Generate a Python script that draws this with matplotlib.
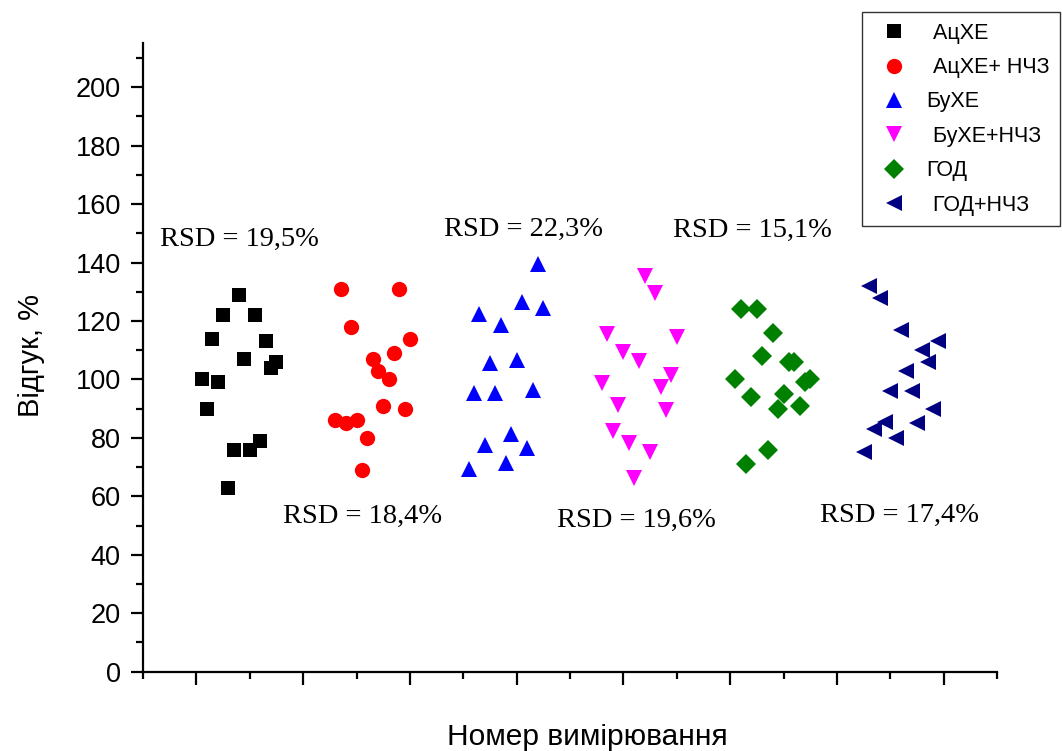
import matplotlib
matplotlib.use('Agg')
import matplotlib.pyplot as plt
import numpy as np

# номер вимірювання (1..15) і зсув для кожної серії
n_meas = np.arange(1, 16)
x_shift = [0, 25, 50, 75, 100, 124]

names = [' АцХЕ', ' АцХЕ+ НЧЗ', 'БуХЕ', ' БуХЕ+НЧЗ', 'ГОД', ' ГОД+НЧЗ']

achE = [100, 90, 114, 99, 122, 63, 76, 129, 107, 76, 122, 79, 113, 104, 106]
achE_nch = [86, 131, 85, 118, 86, 69, 80, 107, 103, 91, 100, 109, 131, 90, 114]
buchE = [69.5, 95.5, 122.5, 77.5, 105.5, 95.5, 118.5, 71.5, 81.5, 106.5, 126.5, 76.5, 96.5, 139.5, 124.5]
buchE_nch = [98.7, 115.6, 82.5, 91.3, 109.5, 78.4, 66.2, 106.4, 135.5, 75.3, 129.5, 97.5, 89.6, 101.5, 114.4]
god = [100, 124, 71, 94, 124, 108, 76, 116, 90, 95, 106, 106, 91, 99, 100]
god_nch = [75, 132, 83, 128, 85.6, 96, 80, 117, 103, 96, 85, 110, 106, 90, 113]

series = [achE, achE_nch, buchE, buchE_nch, god, god_nch]
markers = ['s', 'o', '^', 'v', 'D', '<']
msizes = [10, 11, 12, 12, 10, 12]
colors = ['#000000', '#FF0000', '#0000FF', '#FF00FF', '#008000', '#000080']

rsd_text = ['RSD = 19,5%', 'RSD = 18,4%', 'RSD = 22,3%', 'RSD = 19,6%', 'RSD = 15,1%', 'RSD = 17,4%']
rsd_x = [8.0, 31.2, 61.2, 82.4, 104.1, 131.8]
rsd_y = [148.0, 53.0, 151.4, 51.7, 151.1, 53.4]

fig = plt.figure(figsize=(10.62, 7.51), dpi=100)
ax = fig.add_axes([0.1347, 0.1056, 0.8041, 0.8367])

for i in range(len(series)):
    ax.plot(n_meas + x_shift[i], series[i], linestyle='none',
            marker=markers[i], markersize=msizes[i], color=colors[i],
            markeredgewidth=0, label=names[i])

for t, x, y in zip(rsd_text, rsd_x, rsd_y):
    ax.text(x, y, t, family='Liberation Serif', fontsize=20.5,
            ha='center', va='center')

ax.set_xlim(-10, 150)
ax.set_ylim(0, 215)
ax.set_xticks(np.arange(0, 141, 20))
ax.set_xticks(np.arange(-10, 151, 20), minor=True)
ax.set_xticklabels([])
ax.set_yticks(np.arange(0, 201, 20))
ax.set_yticks(np.arange(0, 215, 10), minor=True)

ax.spines['top'].set_visible(False)
ax.spines['right'].set_visible(False)
ax.spines['left'].set_linewidth(1.6)
ax.spines['bottom'].set_linewidth(1.6)
ax.tick_params(which='major', direction='out', length=9, width=1.6,
               labelsize=19.5, pad=7)
ax.tick_params(which='minor', direction='out', length=5, width=1.6)
for lab in ax.get_yticklabels():
    lab.set_family('Liberation Sans')

fig.text(0.029, 0.526, 'Відгук, %', rotation=90, ha='center', va='center',
         family='Liberation Sans', fontsize=21)
fig.text(0.553, 0.019, 'Номер вимірювання', ha='center', va='center',
         family='Liberation Sans', fontsize=21.5)

leg = fig.legend(loc='upper left', bbox_to_anchor=(0.8117, 0.984),
                 prop={'family': 'Liberation Sans', 'size': 15.5},
                 fancybox=False, edgecolor='#333333', framealpha=1,
                 handletextpad=0.5, labelspacing=0.62, borderpad=0.5,
                 handlelength=2.0, borderaxespad=0)
leg.get_frame().set_linewidth(1.0)

plt.savefig('out.png', dpi=100)
